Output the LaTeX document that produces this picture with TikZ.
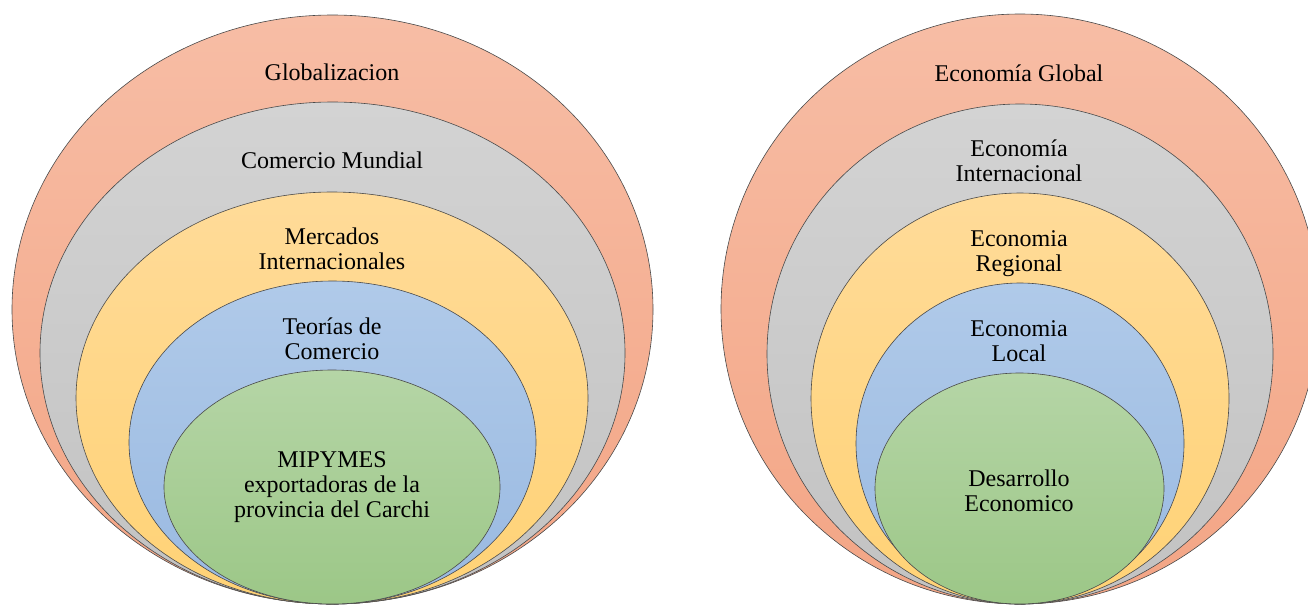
\documentclass[tikz,border=0pt]{standalone}
\usepackage{fontspec}
\setmainfont{Liberation Serif}
\definecolor{salT}{HTML}{F7BDA5}
\definecolor{salB}{HTML}{F3A585}
\definecolor{gryT}{HTML}{D3D3D3}
\definecolor{gryB}{HTML}{C2C2C2}
\definecolor{ylwT}{HTML}{FFDB99}
\definecolor{ylwB}{HTML}{FFD275}
\definecolor{bluT}{HTML}{B0CAE9}
\definecolor{bluB}{HTML}{99B9E1}
\definecolor{grnT}{HTML}{B5D5A6}
\definecolor{grnB}{HTML}{9CC787}
\definecolor{edge}{HTML}{4A4A4A}
\begin{document}
\begin{tikzpicture}[x=1pt,y=-1pt,
  ring/.style={draw=edge, line width=0.6pt},
  sal/.style={ring, top color=salT, bottom color=salB},
  gry/.style={ring, top color=gryT, bottom color=gryB},
  ylw/.style={ring, top color=ylwT, bottom color=ylwB},
  blu/.style={ring, top color=bluT, bottom color=bluB},
  grn/.style={ring, top color=grnT, bottom color=grnB},
  lbl/.style={align=center, font=\fontsize{24}{25}\selectfont, inner sep=0pt, text=black}]
\useasboundingbox (0,0) rectangle (1308,606);
\clip (0,0) rectangle (1308,606);
% left diagram
\draw[sal] (332.5,309.5) ellipse [x radius=320.5, y radius=294.5];
\draw[gry] (332.5,353) ellipse [x radius=292.5, y radius=251];
\draw[ylw] (332,398) ellipse [x radius=256, y radius=206];
\draw[blu] (332.5,442.5) ellipse [x radius=203.5, y radius=161.5];
\draw[grn] (332,487) ellipse [x radius=168, y radius=117];
\node[lbl] (glob) at (332,72) {Globalizacion};
\node[lbl] (comm) at (332,160) {Comercio Mundial};
\node[lbl] (merc) at (332,249) {Mercados\\Internacionales};
\node[lbl] (teor) at (332,338.5) {Teorías de\\Comercio};
\node[lbl] (mipy) at (332,487.5) {MIPYMES\\exportadoras de la\\provincia del Carchi};
% right diagram
\draw[sal] (1020,309) ellipse [x radius=299, y radius=295];
\draw[gry] (1020,354) ellipse [x radius=253, y radius=250];
\draw[ylw] (1020,398.5) ellipse [x radius=209, y radius=205.5];
\draw[blu] (1020,443.5) ellipse [x radius=164, y radius=160.5];
\draw[grn] (1019.5,488.5) ellipse [x radius=144.5, y radius=115.5];
\node[lbl] (eglob) at (1019,73) {Economía Global};
\node[lbl] (einte) at (1019,160.5) {Economía\\Internacional};
\node[lbl] (ereg) at (1019,253.5) {Economia\\Regional};
\node[lbl] (eloc) at (1019,341) {Economia\\Local};
\node[lbl] (edes) at (1019,491) {Desarrollo\\Economico};
\end{tikzpicture}
\end{document}
